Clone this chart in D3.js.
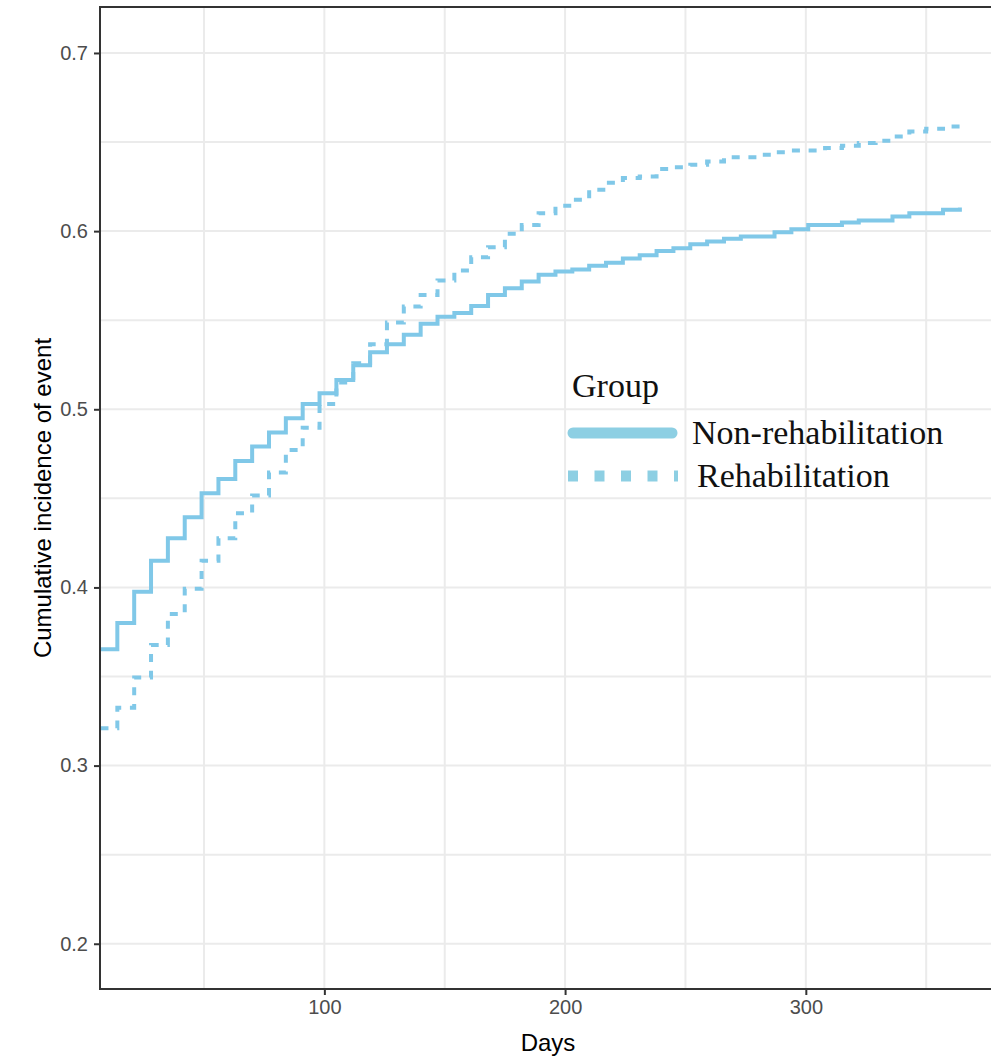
<!DOCTYPE html>
<html>
<head>
<meta charset="utf-8">
<script src="https://cdn.jsdelivr.net/npm/d3@7"></script>
<style>
body{margin:0;background:#fff;}
</style>
</head>
<body>
<div id="chart"></div>
<script>
// weekly time points (days) and cumulative incidence
var days = [7,14,21,28,35,42,49,56,63,70,77,84,91,98,105,112,119,126,133,140,147,154,161,168,175,182,
            189,196,203,210,217,224,231,238,245,252,259,266,273,280,287,294,301,308,315,322,329,336,343,350,357,364];

var nonRehab = [0.3653,0.380,0.3976,0.415,0.4276,0.4394,0.4529,0.4608,0.4710,0.4791,0.4869,0.495,0.503,0.509,
                0.5165,0.5247,0.532,0.5365,0.5418,0.548,0.552,0.554,0.558,0.5642,0.568,0.5717,0.5755,0.5773,
                0.5785,0.5805,0.5822,0.5847,0.5865,0.5888,0.5904,0.5927,0.5942,0.5957,0.597,0.597,0.5994,0.6011,
                0.6035,0.6035,0.6048,0.6059,0.6059,0.6082,0.6101,0.6101,0.612,0.6133];

var rehab = [0.3209,0.3325,0.3494,0.3677,0.3851,0.3992,0.415,0.4276,0.4417,0.4516,0.4645,0.4772,0.4897,0.503,
             0.515,0.5259,0.5365,0.5487,0.5577,0.5642,0.5723,0.5779,0.5854,0.591,0.5985,0.6035,0.6101,0.6142,
             0.6176,0.6232,0.6272,0.6298,0.6307,0.6348,0.6359,0.6372,0.6391,0.6415,0.6415,0.6428,0.6443,0.6452,
             0.6452,0.6466,0.6479,0.6494,0.6507,0.6531,0.6559,0.6574,0.6587,0.6607];

var groups = ["Non-rehabilitation", "Rehabilitation"];
var yTicks = [0.2, 0.3, 0.4, 0.5, 0.6, 0.7];
var yMinor = [0.25, 0.35, 0.45, 0.55, 0.65];
var xTicks = [100, 200, 300];
var xMinor = [50, 150, 250, 350];

var w = 991, h = 1056;
// panel edges (the right one sits just past the picture)
var pL = 100, pT = 7, pR = 996, pB = 989;
var col = "#80c8e8";

var svg = d3.select("#chart").append("svg")
    .attr("width", w)
    .attr("height", h);

var x = d3.scaleLinear().domain([6.8, 379]).range([pL, pR]);
var y = d3.scaleLinear().domain([0.1746, 0.7258]).range([pB, pT]);

svg.append("defs").append("clipPath").attr("id", "panel")
  .append("rect").attr("x", pL).attr("y", pT).attr("width", pR - pL).attr("height", pB - pT);

// grid
var grid = svg.append("g").attr("stroke", "#ebebeb").attr("stroke-width", 2);
grid.selectAll(".hy").data(yMinor.concat(yTicks)).enter().append("line")
  .attr("x1", pL).attr("x2", pR)
  .attr("y1", function(d){ return y(d); }).attr("y2", function(d){ return y(d); });
grid.selectAll(".vx").data(xMinor.concat(xTicks)).enter().append("line")
  .attr("y1", pT).attr("y2", pB)
  .attr("x1", function(d){ return x(d); }).attr("x2", function(d){ return x(d); });

// curves
var line = d3.line()
  .x(function(d){ return x(d[0]); })
  .y(function(d){ return y(d[1]); })
  .curve(d3.curveStepAfter);

var curves = svg.append("g").attr("clip-path", "url(#panel)");
curves.append("path")
  .datum(d3.zip(days, nonRehab))
  .attr("d", line)
  .attr("fill", "none").attr("stroke", col).attr("stroke-width", 4);
curves.append("path")
  .datum(d3.zip(days, rehab))
  .attr("d", line)
  .attr("fill", "none").attr("stroke", col).attr("stroke-width", 4)
  .attr("stroke-dasharray", "8,8.7");

// panel border
svg.append("rect")
  .attr("x", pL).attr("y", pT).attr("width", pR - pL).attr("height", pB - pT)
  .attr("fill", "none").attr("stroke", "#333").attr("stroke-width", 2);

// axes
var yAxis = svg.append("g").attr("transform", "translate(" + pL + ",0)")
  .call(d3.axisLeft(y).tickValues(yTicks).tickFormat(d3.format(".1f")).tickSize(6).tickPadding(6));
var xAxis = svg.append("g").attr("transform", "translate(0," + pB + ")")
  .call(d3.axisBottom(x).tickValues(xTicks).tickSize(6).tickPadding(5));
[yAxis, xAxis].forEach(function(a){
  a.select(".domain").remove();
  a.selectAll(".tick line").attr("stroke", "#333").attr("stroke-width", 2);
  a.selectAll(".tick text").attr("fill", "#4d4d4d")
    .style("font-family", "'Liberation Sans', Arial, sans-serif").style("font-size", "20px");
});

// axis titles
svg.append("text")
  .attr("x", (pL + pR) / 2).attr("y", 1051)
  .attr("text-anchor", "middle")
  .style("font-family", "'Liberation Sans', Arial, sans-serif").style("font-size", "24px")
  .text("Days");
svg.append("text")
  .attr("transform", "translate(51," + (pT + pB) / 2 + ") rotate(-90)")
  .attr("text-anchor", "middle")
  .style("font-family", "'Liberation Sans', Arial, sans-serif").style("font-size", "24px")
  .text("Cumulative incidence of event");

// legend
var lg = svg.append("g").style("font-family", "'Liberation Serif', 'Times New Roman', serif").style("font-size", "34px");
lg.append("text").attr("x", 572).attr("y", 397).attr("fill", "#111").text("Group");
var items = lg.selectAll(".item").data(groups).enter().append("g")
  .attr("transform", function(d, i){ return "translate(0," + (433 + i * 43) + ")"; });
items.append("line")
  .attr("x1", function(d, i){ return i === 0 ? 573 : 568; })
  .attr("x2", function(d, i){ return i === 0 ? 672 : 678; })
  .attr("stroke", "#8dcfe3").attr("stroke-width", 11)
  .attr("stroke-linecap", function(d, i){ return i === 0 ? "round" : "butt"; })
  .attr("stroke-dasharray", function(d, i){ return i === 0 ? null : "10,16.5"; });
items.append("text")
  .attr("x", function(d, i){ return i === 0 ? 692 : 697; })
  .attr("y", 11)
  .attr("fill", "#111")
  .text(function(d){ return d; });
</script>
</body>
</html>
